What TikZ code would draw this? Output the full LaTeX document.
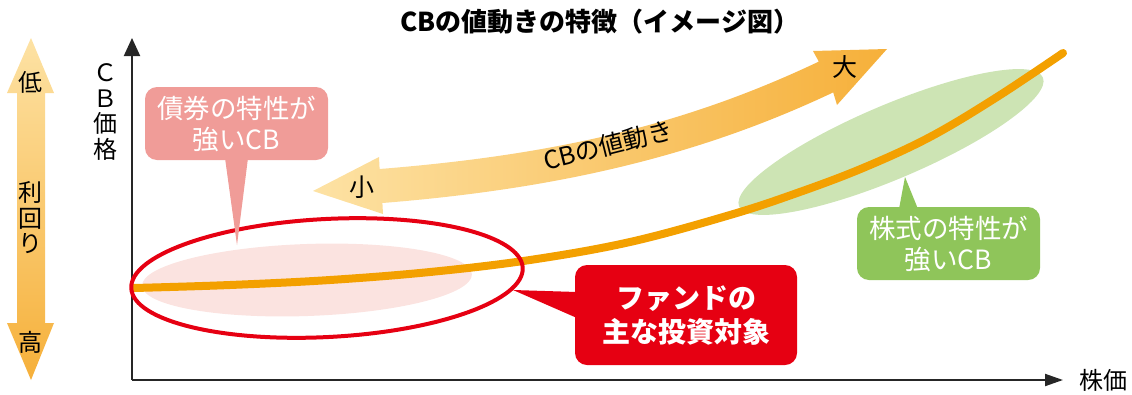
\documentclass[tikz,border=0pt]{standalone}
\usepackage{fontspec}
\setmainfont{Noto Sans CJK JP}
\newfontfamily\jp{Noto Sans CJK JP}
\usetikzlibrary{arrows.meta}
\definecolor{curveorange}{HTML}{F3A000}
\definecolor{fundred}{HTML}{E60012}
\definecolor{bondpink}{HTML}{F09C98}
\definecolor{bondpinklight}{HTML}{FBE3E0}
\definecolor{stockgreen}{HTML}{8FC55A}
\definecolor{stockgreenlight}{HTML}{CDE4B4}
\definecolor{arrowlight}{HTML}{FDE2A4}
\definecolor{arrowdark}{HTML}{F6B03A}
\definecolor{axisgray}{HTML}{262626}
\tikzset{
  axisline/.style={draw=axisgray, line width=2pt},
  calloutbox/.style={rounded corners=12pt, text=white, align=center, inner sep=0pt},
  bigtxt/.style={font=\jp\fontsize{26.5}{31}\selectfont},
  labeltxt/.style={font=\jp\fontsize{24}{25.5}\selectfont, align=center, inner sep=0pt},
}
\begin{document}
\begin{tikzpicture}[x=1pt,y=-1pt]
\useasboundingbox (0,0) rectangle (1132,394);

% title
\node[font=\jp\bfseries\fontsize{26}{30}\selectfont] (title) at (600,22) {CBの値動きの特徴（イメージ図）};

% left yield arrow
\shade[top color=arrowlight, bottom color=arrowdark]
  (31,38) -- (54,93) -- (45,93) -- (45,323) -- (54,323) -- (31,380)
  -- (7,323) -- (17,323) -- (17,93) -- (7,93) -- cycle;
\node[labeltxt] (low) at (31,82) {低};
\node[labeltxt] (yield) at (31,218) {利\\回\\り};
\node[labeltxt] (high) at (31,342) {高};

% axes
\coordinate (O) at (132,380);
\coordinate (Ytip) at (132,38);
\coordinate (Xtip) at (1063,380);
\draw[axisline, -{Triangle[length=18pt,width=16pt]}] (O) -- (Ytip);
\draw[axisline, -{Triangle[length=18pt,width=12pt]}] (O) -- (Xtip);
\node[labeltxt] (ylabel) at (105,112) {Ｃ\\Ｂ\\価\\格};
\node[labeltxt] (xlabel) at (1103,380) {株価};

% regions
\fill[bondpinklight, rotate around={2:(307,280)}] (307,280) ellipse [x radius=165pt, y radius=36pt];
\fill[stockgreenlight, rotate around={23:(891,142)}] (891,142) ellipse [x radius=165pt, y radius=37pt];

% CB price curve
\draw[curveorange, line width=8pt, line cap=round] plot[smooth, tension=0.6] coordinates
  {(134,288) (230,285) (330,280) (430,272) (530,260) (630,242) (730,215) (797,193) (863,168) (930,137) (997,97) (1063,53)};

% fund target ellipse
\draw[fundred, line width=4pt, rotate around={3:(327,278)}] (327,278) ellipse [x radius=196pt, y radius=59pt];

% big curved double arrow
\shade[left color=arrowlight, right color=arrowdark]
  (313,191) -- (379,157) -- (379.6,169)
  .. controls (559.6,154.6) and (687.8,123.6) .. (818.8,61.6)
  -- (813,51) -- (887,49) -- (837,105) -- (833.2,92.4)
  .. controls (702.2,154.4) and (562.4,188.6) .. (382.4,203)
  -- (383,214) -- cycle;
\node[labeltxt, font=\jp\fontsize{25}{28}\selectfont, rotate=14] (move) at (608,145) {CBの値動き};
\node[labeltxt, font=\jp\fontsize{25}{28}\selectfont] (small) at (362,187) {小};
\node[labeltxt, font=\jp\fontsize{25}{28}\selectfont] (large) at (845,67) {大};

% bond callout
\fill[bondpink] (225,158) -- (248,158) -- (237,245) -- cycle;
\node[calloutbox, fill=bondpink, minimum width=183pt, minimum height=73pt, bigtxt] (bond) at (236.5,123.5) {債券の特性が\\強いCB};

% stock callout
\fill[stockgreen] (899,209) -- (905,177) -- (918,209) -- cycle;
\node[calloutbox, fill=stockgreen, minimum width=183pt, minimum height=73pt, bigtxt] (stock) at (948.5,243.5) {株式の特性が\\強いCB};

% fund callout
\fill[fundred] (577,292) -- (513,290) -- (577,318) -- cycle;
\node[calloutbox, fill=fundred, minimum width=222pt, minimum height=100pt, font=\jp\bfseries\fontsize{28}{34}\selectfont] (fund) at (686,315) {ファンドの\\主な投資対象};
\end{tikzpicture}
\end{document}
